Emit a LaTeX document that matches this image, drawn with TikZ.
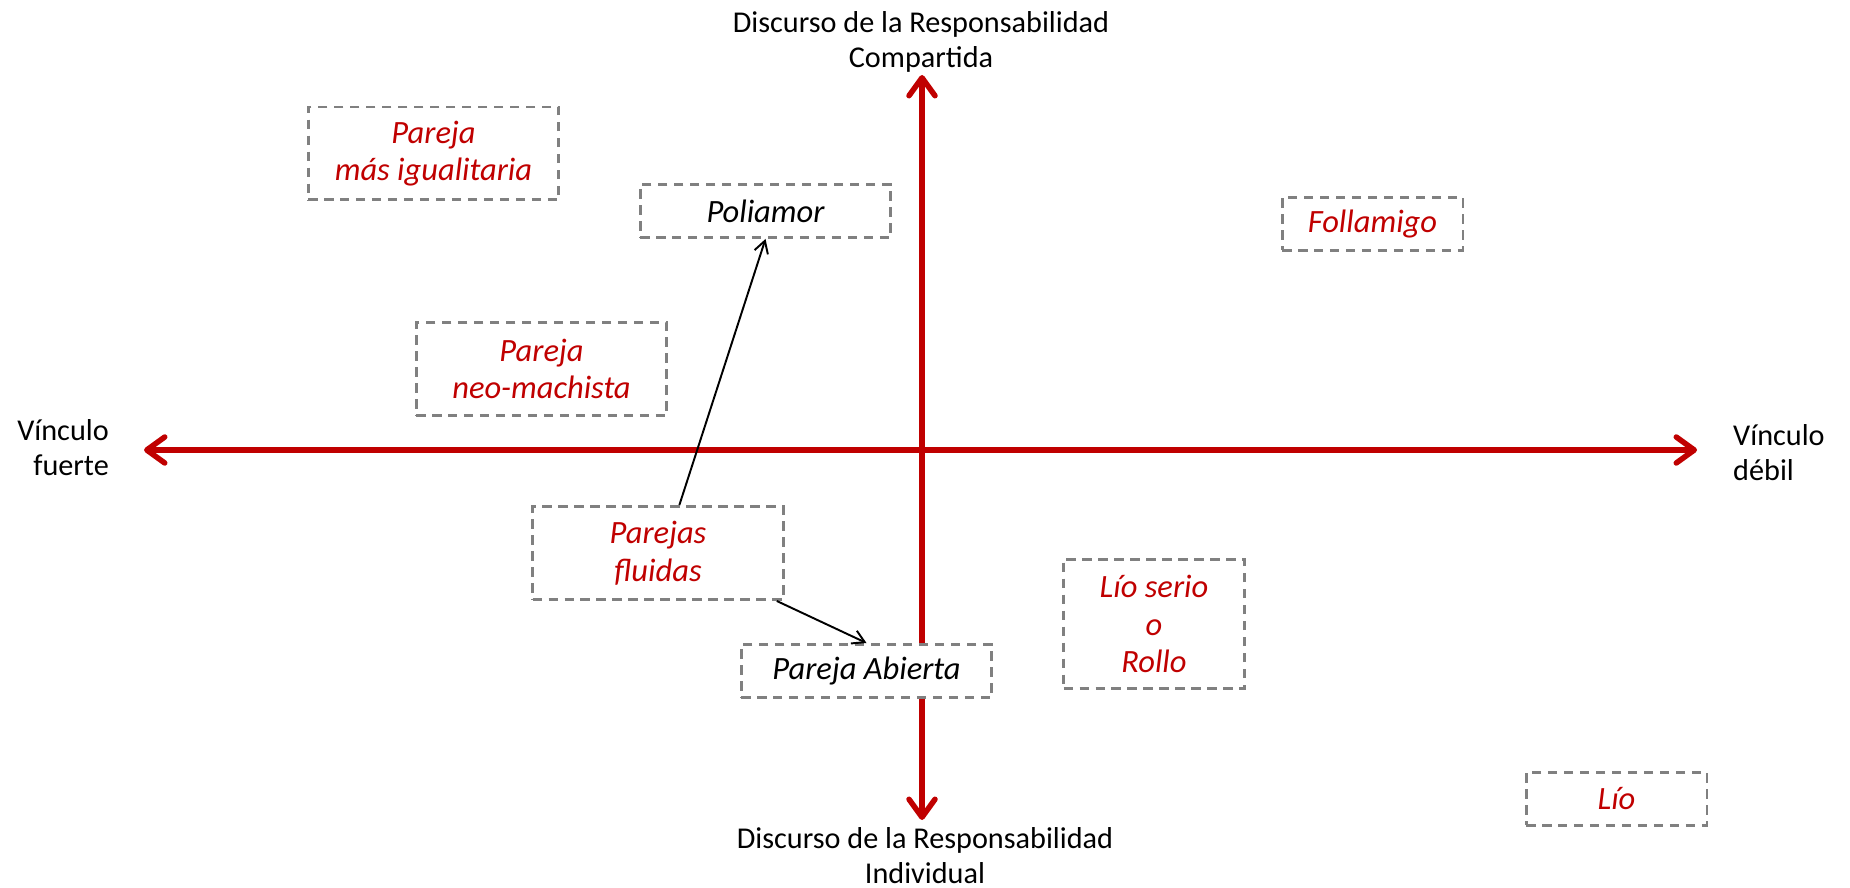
\documentclass[tikz,border=0pt]{standalone}
\usepackage{fontspec}
\setmainfont{Carlito}
\usetikzlibrary{arrows.meta}
\definecolor{axisred}{HTML}{C00000}
\definecolor{boxgray}{HTML}{808080}
\begin{document}
\begin{tikzpicture}[x=0.02cm,y=-0.02cm,
    font=\fontsize{17.2}{19.8}\selectfont,
    axis/.style={draw=axisred,line width=0.11cm,
      {Straight Barb[length=0.36cm,width=0.52cm,round]}-{Straight Barb[length=0.36cm,width=0.52cm,round]}},
    quad/.style={draw=boxgray,fill=white,line width=1.7pt,dash pattern=on 5.4pt off 3.7pt,
      inner sep=0pt,align=center,font=\fontsize{18.5}{21.5}\selectfont\itshape},
    wide/.style={minimum width=5.02cm},
    narrow/.style={minimum width=3.62cm},
    one/.style={minimum height=1.06cm},
    two/.style={minimum height=1.86cm},
    three/.style={minimum height=2.6cm},
    hot/.style={text=axisred},
    link/.style={line width=1.1pt,-{Straight Barb[length=0.24cm,width=0.28cm]}}]
  \useasboundingbox (0,0) rectangle (1850,888);

  % ejes
  \coordinate (W) at (144,450);
  \coordinate (E) at (1697,450);
  \coordinate (N) at (922,75);
  \coordinate (S) at (922,820);
  \draw[axis] (W) -- (E);
  \draw[axis] (S) -- (N);

  \node[align=center] (ntxt) at (921,42) {Discurso de la Responsabilidad\\Compartida};
  \node[align=center] (stxt) at (925,856) {Discurso de la Responsabilidad\\Individual};
  \node[align=right,anchor=east] (wtxt) at (115,448) {Vínculo\\fuerte};
  \node[align=left,anchor=west] (etxt) at (1727,453) {Vínculo\\débil};

  % cuadrantes
  \node[quad,wide,two,hot]      (pmi)   at (433.5,153.5) {Pareja\\más igualitaria};
  \node[quad,wide,one]          (poli)  at (765.5,211)   {Poliamor};
  \node[quad,narrow,one,hot]    (folla) at (1372.5,224)  {Follamigo};
  \node[quad,wide,two,hot]      (pnm)   at (541.5,369)   {Pareja\\neo-machista};
  \node[quad,wide,two,hot]      (fluid) at (658,553)     {Parejas\\fluidas};
  \node[quad,narrow,three,hot]  (serio) at (1154,624)    {Lío serio\\o\\Rollo};
  \node[quad,wide,one]          (abie)  at (866.5,671)   {Pareja Abierta};
  \node[quad,narrow,one,hot]    (lio)   at (1616.5,799)  {Lío};

  \draw[link] (fluid.66) -- (poli.south);
  \draw[link] (fluid.-22) -- (abie.north);

\end{tikzpicture}
\end{document}
